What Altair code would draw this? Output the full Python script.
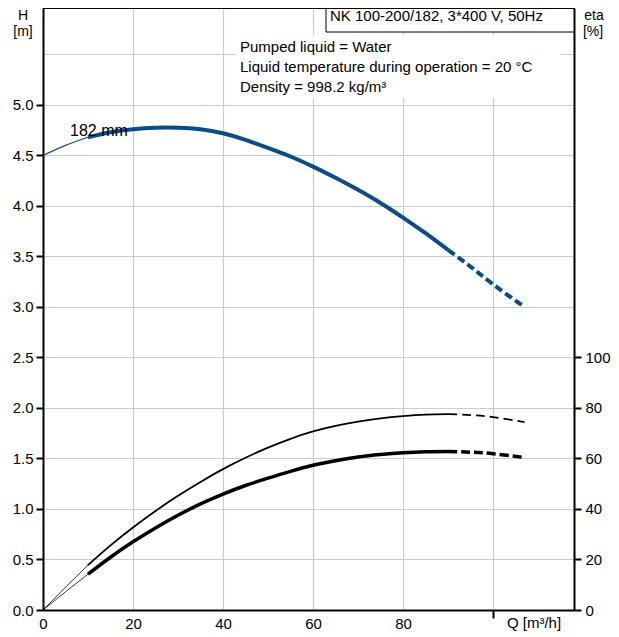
import altair as alt
import pandas as pd

# ---- data ----
Q_H = [0, 5, 10, 15, 20, 25, 30, 35, 40, 45, 50, 55, 60, 65, 70, 75, 80, 85, 90, 95, 100, 107]
H_VAL = [4.50, 4.60, 4.68, 4.73, 4.76, 4.775, 4.775, 4.76, 4.72, 4.655, 4.575, 4.49, 4.39, 4.28,
         4.16, 4.03, 3.885, 3.73, 3.565, 3.40, 3.225, 3.00]

Q_ETA = [0, 5, 10, 15, 20, 25, 30, 35, 40, 45, 50, 55, 60, 65, 70, 75, 80, 85, 90, 95, 100, 107]
ETA_1 = [0, 9.0, 17.8, 25.6, 32.7, 39.2, 45.2, 50.7, 55.8, 60.3, 64.3, 67.8, 70.7, 72.9,
         74.6, 75.9, 76.8, 77.4, 77.6, 77.2, 76.4, 74.4]
ETA_2 = [0, 7.2, 14.2, 20.9, 27.0, 32.5, 37.5, 42.0, 45.9, 49.3, 52.2, 54.9, 57.3, 59.1,
         60.6, 61.6, 62.3, 62.7, 62.8, 62.5, 61.9, 60.4]

X_TICKS = [0, 20, 40, 60, 80, 100]
H_TICKS = [0, 0.5, 1.0, 1.5, 2.0, 2.5, 3.0, 3.5, 4.0, 4.5, 5.0, 5.5]
ETA_TICKS = [0, 20, 40, 60, 80, 100]

TITLE = "NK 100-200/182, 3*400 V, 50Hz"
INFO = ["Pumped liquid = Water",
        "Liquid temperature during operation = 20 °C",
        "Density = 998.2 kg/m³"]

FONT = "Liberation Sans"
BLUE = "#0a4c89"
W, H = 531, 602

df_h = pd.DataFrame({"Q": Q_H, "H": H_VAL})
df_e1 = pd.DataFrame({"Q": Q_ETA, "eta": ETA_1})
df_e2 = pd.DataFrame({"Q": Q_ETA, "eta": ETA_2})
one = pd.DataFrame({"a": [0]})

hidden = "rgba(0,0,0,0)"

X = alt.X("Q:Q", scale=alt.Scale(domain=[0, 118], nice=False, zero=False),
          axis=alt.Axis(values=X_TICKS, grid=True, gridColor="#cccccc", gridWidth=1.2,
                        labelExpr="datum.value == 100 ? '' : datum.label",
                        labelFlush=False,
                        tickSize=8, tickWidth=2,
                        tickColor={"condition": {"test": "datum.value == 100", "value": "black"},
                                   "value": hidden},
                        domainColor="black", domainWidth=2,
                        labelFont=FONT, labelFontSize=15, labelColor="black",
                        labelPadding=-2, title=None))

YH = alt.Y("H:Q", scale=alt.Scale(domain=[0, 5.96], nice=False, zero=False),
           axis=alt.Axis(orient="left", values=H_TICKS, format=".1f", grid=True,
                         gridColor="#cccccc", gridWidth=1.2,
                         labelExpr="datum.value > 5.01 ? '' : datum.label",
                         labelFlush=False,
                         tickSize=7, tickWidth=2,
                         tickColor={"condition": {"test": "datum.value > 5.01", "value": hidden},
                                    "value": "black"},
                         domainColor="black", domainWidth=2,
                         labelFont=FONT, labelFontSize=15, labelColor="black",
                         labelPadding=3, title=None))

YE = alt.Y("eta:Q", scale=alt.Scale(domain=[0, 238.4], nice=False, zero=False),
           axis=alt.Axis(orient="right", values=ETA_TICKS, grid=False,
                         labelFlush=False,
                         tickSize=7, tickWidth=2, tickColor="black",
                         domainColor="black", domainWidth=2,
                         labelFont=FONT, labelFontSize=15, labelColor="black",
                         labelPadding=4, title=None))


def seg(df, y, lo, hi, **kw):
    return (alt.Chart(df)
            .transform_filter(f"datum.Q >= {lo} && datum.Q <= {hi}")
            .mark_line(interpolate="natural", strokeCap="butt", **kw)
            .encode(x=X, y=y))


def text(s, x, y, size=15, align="left"):
    return alt.Chart(one).mark_text(align=align, baseline="alphabetic", font=FONT,
                                    fontSize=size, color="black").encode(
        x=alt.value(x), y=alt.value(y), text=alt.value(s))


# H curve layers
h_layer = alt.layer(
    seg(df_h, YH, 0, 10, color=BLUE, strokeWidth=1.1),
    seg(df_h, YH, 10, 90, color=BLUE, strokeWidth=4),
    seg(df_h, YH, 90, 107, color=BLUE, strokeWidth=4, strokeDash=[8, 4]),
    # white background of the info text
    alt.Chart(one).mark_rect(fill="white").encode(
        x=alt.value(193), x2=alt.value(517), y=alt.value(27), y2=alt.value(90)),
    # title box
    alt.Chart(one).mark_rect(fill="white", stroke="black", strokeWidth=1).encode(
        x=alt.value(283), x2=alt.value(531), y=alt.value(0), y2=alt.value(24)),
    alt.Chart(one).mark_rule(color="black", strokeWidth=2).encode(
        x=alt.value(0), x2=alt.value(W), y=alt.value(0)),
    text(TITLE, 287, 13, size=15),
    text(INFO[0], 197, 43.7),
    text(INFO[1], 197, 63.7),
    text(INFO[2], 197, 83.7),
    text("182 mm", 27, 128, size=16),
    text("H", -20, 12, size=14, align="center"),
    text("[m]", -20, 28, size=14, align="center"),
    text("eta", 551, 11.5, size=14, align="center"),
    text("[%]", 550, 27.5, size=14, align="center"),
    text("Q [m³/h]", 491, 620, align="center"),
)

eta_layer = alt.layer(
    seg(df_e1, YE, 0, 10, color="black", strokeWidth=0.8),
    seg(df_e1, YE, 10, 90, color="black", strokeWidth=1.8),
    seg(df_e1, YE, 90, 107, color="black", strokeWidth=1.8, strokeDash=[9, 5]),
    seg(df_e2, YE, 0, 10, color="black", strokeWidth=0.8),
    seg(df_e2, YE, 10, 90, color="black", strokeWidth=3.5),
    seg(df_e2, YE, 90, 107, color="black", strokeWidth=3.5, strokeDash=[9, 4]),
)

chart = (alt.layer(eta_layer, h_layer)
         .resolve_scale(y="independent")
         .properties(width=W, height=H, autosize="none",
                     padding={"left": 35, "top": 0, "right": 37, "bottom": 26})
         .configure_view(stroke="black", strokeWidth=2)
         .configure(background="white"))

chart.save("out.html", embed_options={"renderer": "svg", "actions": False})
